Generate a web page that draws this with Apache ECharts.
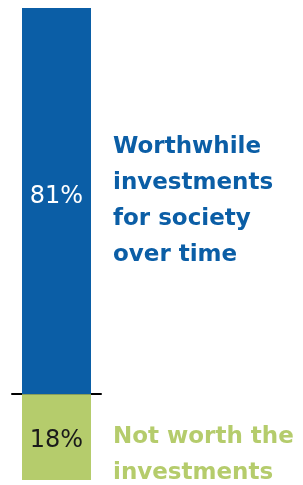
<!DOCTYPE html>
<html>
<head>
<meta charset="utf-8">
<script src="https://cdn.jsdelivr.net/npm/echarts@6/dist/echarts.min.js"></script>
<style>
  html, body { margin: 0; padding: 0; background: #fff; }
  #main { width: 303px; height: 485px; }
</style>
</head>
<body>
<div id="main"></div>
<script>
// data
var categories = ['Investments'];
var worthwhile = [81];
var notWorth = [-18];
var seriesNames = ['Worthwhile\ninvestments\nfor society\nover time', 'Not worth the\ninvestments'];

var BLUE = '#0b5ea6';
var GREEN = '#b5cc6c';

var chart = echarts.init(document.getElementById('main'));

var option = {
    animation: false,
    grid: { left: 12, right: 202, top: 8, bottom: 5 },
    xAxis: {
        type: 'category',
        data: categories,
        axisLine: { onZero: true, lineStyle: { color: '#000', width: 2 } },
        axisTick: { show: false },
        axisLabel: { show: false }
    },
    yAxis: {
        type: 'value',
        min: -18,
        max: 81,
        show: false,
        splitLine: { show: false }
    },
    series: [
        {
            name: seriesNames[0],
            type: 'bar',
            stack: 'total',
            barWidth: 69,
            data: worthwhile,
            itemStyle: { color: BLUE },
            label: {
                show: true,
                position: 'inside',
                offset: [0, -4],
                formatter: function (p) { return Math.abs(p.value) + '%'; },
                color: '#fff',
                fontFamily: 'DejaVu Sans',
                fontSize: 24
            },
            z: 1
        },
        {
            name: seriesNames[1],
            type: 'bar',
            stack: 'total',
            barWidth: 69,
            data: notWorth,
            itemStyle: { color: GREEN },
            label: {
                show: true,
                position: 'inside',
                offset: [0, 4],
                formatter: function (p) { return Math.abs(p.value) + '%'; },
                color: '#1a1a1a',
                fontFamily: 'DejaVu Sans',
                fontSize: 24
            },
            z: 1
        }
    ],
    graphic: [
        {
            type: 'text',
            left: 113,
            top: 129,
            style: {
                text: seriesNames[0],
                fill: BLUE,
                font: 'bold 23px "DejaVu Sans", sans-serif',
                lineHeight: 36
            }
        },
        {
            type: 'text',
            left: 113,
            top: 419,
            style: {
                text: seriesNames[1],
                fill: GREEN,
                font: 'bold 23px "DejaVu Sans", sans-serif',
                lineHeight: 36
            }
        }
    ]
};

chart.setOption(option);
</script>
</body>
</html>
